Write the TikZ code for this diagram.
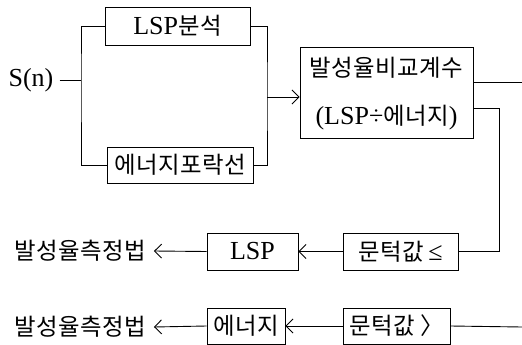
\documentclass[tikz,border=0pt]{standalone}
\usepackage{fontspec}
\setmainfont{Liberation Serif}
\newfontfamily\kr[Scale=0.9,LetterSpace=2]{Noto Sans CJK KR}
\usetikzlibrary{arrows.meta}
\begin{document}
\begin{tikzpicture}[x=1pt,y=-1pt,
  every node/.style={font=\fontsize{26}{28}\selectfont, inner sep=0pt},
  blk/.style={draw, line width=0.9pt, minimum height=37pt},
  ln/.style={line width=0.9pt},
  arr/.style={line width=0.9pt, -{Straight Barb[length=7pt,width=14pt]}}]
\useasboundingbox (0,0) rectangle (522,345);
% nodes
\node (sn) at (31,80) {S(n)};
\node[blk, minimum width=145pt, minimum height=38pt] (lsp) at (177.5,26) {LSP{\kr 분석}};
\node[blk, minimum width=146pt, minimum height=36pt] (env) at (180,165) {\kr 에너지포락선};
\node[blk, minimum width=173pt, minimum height=91pt] (ratio) at (386.5,92.5) {};
\node (r1) at (386.5,68) {\kr 발성율비교계수};
\node (r2) at (386.5,118) {(LSP÷{\kr 에너지})};
\node[blk, minimum width=115pt] (th1) at (400.5,251.5) {{\kr 문턱값}\,≤};
\node[blk, minimum width=91pt] (lspb) at (252.5,251.5) {LSP};
\node (m1) at (80,251) {\kr 발성율측정법};
\node[blk, minimum width=107pt, minimum height=36pt] (th2) at (396.5,326) {\kr 문턱값 〉};
\node[blk, minimum width=78pt, minimum height=36pt] (enb) at (246,326) {\kr 에너지};
\node (m2) at (80,327) {\kr 발성율측정법};
% coordinates
\coordinate (jl) at (81,80);
\coordinate (jr) at (267,97);
\coordinate (o1) at (522,82);
\coordinate (o2) at (522,327);
\coordinate (k) at (499,108);
% connectors
\draw[ln] ([xshift=6pt]sn.east) -- (jl);
\draw[ln] (lsp.west) -| (jl) |- (env.west);
\draw[ln] (lsp.east) -| (jr) |- (env.east);
\draw[arr] (jr) -- (ratio.west |- jr);
\draw[ln] (ratio.east |- o1) -- (o1);
\draw[ln] (ratio.east |- k) -- (k) |- (th1.east);
\draw[arr] (th1.west) -- (lspb.east);
\draw[arr] (lspb.west) -- ([xshift=8pt]m1.east);
\draw[arr] (th2.west) -- (enb.east);
\draw[arr] (enb.west) -- ([xshift=8pt]m2.east);
\draw[ln] (th2.east) -- (o2);
\end{tikzpicture}
\end{document}
